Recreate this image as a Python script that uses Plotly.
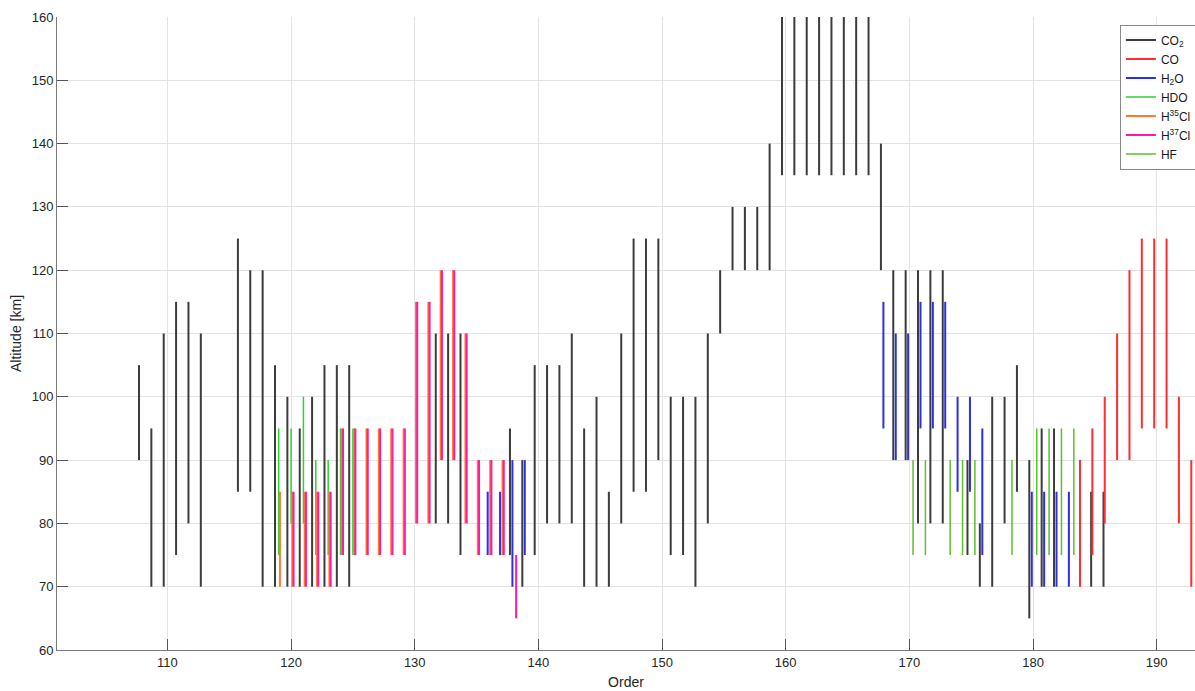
import plotly.graph_objects as go

# ---- data: (order, bottom altitude, top altitude) per molecule ----
co2_order = [108, 109, 110, 111, 112, 113, 116, 117, 118, 119, 120, 121, 122, 123, 124, 125,
             132, 133, 134, 138, 139, 140, 141, 142, 143, 144, 145, 146, 147, 148, 149, 150,
             151, 152, 153, 154, 155, 156, 157, 158, 159, 160, 161, 162, 163, 164, 165, 166,
             167, 168, 169, 170, 171, 172, 173, 175, 176, 177, 178, 179, 180, 181, 182, 185, 186]
co2_bot = [90, 70, 70, 75, 80, 70, 85, 85, 70, 70, 70, 70, 70, 70, 70, 70,
           80, 80, 75, 75, 70, 75, 80, 80, 80, 70, 70, 70, 80, 85, 85, 90,
           75, 75, 70, 80, 110, 120, 120, 120, 120, 135, 135, 135, 135, 135, 135, 135,
           135, 120, 90, 90, 80, 80, 80, 75, 70, 70, 80, 85, 65, 70, 70, 70, 70]
co2_top = [105, 95, 110, 115, 115, 110, 125, 120, 120, 105, 100, 95, 100, 105, 105, 105,
           110, 110, 110, 95, 90, 105, 105, 105, 110, 95, 100, 85, 110, 125, 125, 125,
           100, 100, 100, 110, 120, 130, 130, 130, 140, 160, 160, 160, 160, 160, 160, 160,
           160, 140, 120, 120, 120, 120, 120, 90, 80, 100, 100, 105, 90, 95, 95, 85, 85]

co_order = [184, 185, 186, 187, 188, 189, 190, 191, 192, 193]
co_bot = [70, 75, 80, 90, 90, 95, 95, 95, 80, 70]
co_top = [90, 95, 100, 110, 120, 125, 125, 125, 100, 90]

h2o_order = [136, 137, 138, 139, 168, 169, 170, 171, 172, 173, 174, 175, 176, 180, 181, 182, 183]
h2o_bot = [75, 75, 70, 75, 95, 90, 90, 95, 95, 95, 85, 85, 75, 70, 70, 70, 70]
h2o_top = [85, 85, 90, 90, 115, 110, 110, 115, 115, 115, 100, 100, 95, 85, 85, 85, 85]

hdo_order = [119, 120, 121, 122, 123, 124, 125]
hdo_bot = [75, 80, 80, 75, 75, 75, 75]
hdo_top = [95, 95, 100, 90, 90, 95, 95]

h35_order = [119, 120, 121, 122, 123, 124, 125, 126, 127, 128, 129, 130, 131, 132, 133, 134, 135, 136, 137]
h35_bot = [70, 70, 70, 70, 70, 75, 75, 75, 75, 75, 75, 80, 80, 90, 90, 80, 75, 75, 75]
h35_top = [85, 85, 85, 85, 85, 95, 95, 95, 95, 95, 95, 115, 115, 120, 120, 110, 90, 90, 90]

h37_order = [120, 121, 122, 123, 124, 125, 126, 127, 128, 129, 130, 131, 132, 133, 134, 135, 136, 137, 138]
h37_bot = [70, 70, 70, 70, 75, 75, 75, 75, 75, 75, 80, 80, 90, 90, 80, 75, 75, 75, 65]
h37_top = [85, 85, 85, 85, 95, 95, 95, 95, 95, 95, 115, 115, 120, 120, 110, 90, 90, 90, 75]

hf_order = [170, 171, 173, 174, 175, 178, 180, 181, 182, 183]
hf_bot = [75, 75, 75, 75, 75, 75, 75, 75, 75, 75]
hf_top = [90, 90, 90, 90, 90, 90, 95, 95, 95, 95]

names = ["CO<sub>2</sub>", "CO", "H<sub>2</sub>O", "HDO", "H<sup>35</sup>Cl", "H<sup>37</sup>Cl", "HF"]
series = [
    (co2_order, co2_bot, co2_top),
    (co_order, co_bot, co_top),
    (h2o_order, h2o_bot, h2o_top),
    (hdo_order, hdo_bot, hdo_top),
    (h35_order, h35_bot, h35_top),
    (h37_order, h37_bot, h37_top),
    (hf_order, hf_bot, hf_top),
]
colors = ["#3c3c3c", "#ff2e2e", "#2e2ee6", "#2ed12e", "#ff7a2e", "#ff1aa6", "#5cbf2e"]
widths = [2, 2, 2, 1.5, 2, 2, 1.5]

fig = go.Figure()
for i, (name, (orders, bots, tops)) in enumerate(zip(names, series)):
    shift = (i - 3) * 0.1  # small per-molecule offset so windows don't overlap
    xs, ys = [], []
    for o, b, t in zip(orders, bots, tops):
        xs += [o + shift, o + shift, None]
        ys += [b, t, None]
    fig.add_trace(go.Scatter(x=xs, y=ys, mode="lines", name=name,
                             line=dict(color=colors[i], width=widths[i])))

axis_common = dict(
    showgrid=True, gridcolor="#e3e3e3", gridwidth=1,
    showline=True, linecolor="#7a7a7a", linewidth=1,
    ticks="inside", ticklen=11, tickcolor="#555555", tickwidth=1,
    zeroline=False, mirror=False,
    tickfont=dict(family="Liberation Sans, Arial, sans-serif", size=13, color="#262626"),
)

fig.update_layout(
    width=1195, height=691,
    margin=dict(l=57, r=0, t=17, b=41, autoexpand=False),
    paper_bgcolor="white", plot_bgcolor="white",
    font=dict(family="Liberation Sans, Arial, sans-serif", color="#262626"),
    xaxis=dict(range=[101.07, 193.1], dtick=10, tick0=0,
               title=dict(text="Order", font=dict(size=14), standoff=8), **axis_common),
    yaxis=dict(range=[60, 160], dtick=10,
               title=dict(text="Altitude [km]", font=dict(size=14), standoff=6), **axis_common),
    legend=dict(x=0.934, y=0.988, xanchor="left", yanchor="top",
                bgcolor="white", bordercolor="#8a8a8a", borderwidth=1,
                font=dict(size=12, color="#1a1a1a"), itemwidth=30,
                tracegroupgap=0),
    showlegend=True,
)

fig.write_html("out.html")
